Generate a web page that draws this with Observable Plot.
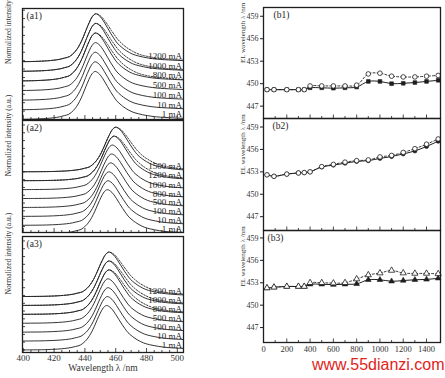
<!DOCTYPE html>
<html><head><meta charset="utf-8">
<script src="https://cdn.jsdelivr.net/npm/d3@7"></script>
<script src="https://cdn.jsdelivr.net/npm/@observablehq/plot@0.6"></script>
<style>
body{margin:0;background:#fff;}
#c{position:relative;width:445px;height:378px;overflow:hidden;font-family:"Liberation Serif",serif;}
#c svg{position:absolute;overflow:visible;}
.wm{position:absolute;left:312px;top:356px;color:#e2231a;font:16px "Liberation Sans",sans-serif;line-height:18px;}
</style></head><body><div id="c"></div>
<script>
// ---------- data: spectra (left column) ----------
// normalized line shape read from the 1 mA / 1200 mA curves, vs. shift from peak (nm)
const profileShift  = [-70,-50,-40,-32,-27,-23,-20,-17,-14,-12,-10,-8,-6,-4,-2,0,2,4,6,8,10,12,14,17,20,24,28,34,40,50,60,70];
const profileSolid  = [0,0.003,0.008,0.02,0.035,0.055,0.08,0.11,0.19,0.27,0.38,0.52,0.68,0.83,0.95,1,0.97,0.9,0.8,0.69,0.58,0.48,0.39,0.3,0.23,0.16,0.12,0.08,0.055,0.035,0.02,0.015];
const profileDashed = [0,0.003,0.008,0.02,0.035,0.055,0.08,0.11,0.19,0.27,0.38,0.52,0.68,0.83,0.95,1,0.98,0.93,0.85,0.76,0.66,0.57,0.48,0.38,0.3,0.22,0.16,0.11,0.08,0.05,0.03,0.02];

const currentsA1 = ["1 mA","10 mA","100 mA","500 mA","800 mA","1000 mA","1200 mA"];
const peaksA1    = [446.6,446.6,446.6,446.8,446.8,447.0,447.0];
const offsetsA1  = [0,0.2,0.4,0.6,0.8,1.0,1.2];
const dashedA1   = ["800 mA","1000 mA","1200 mA"];

const currentsA2 = ["1 mA","10 mA","100 mA","500 mA","800 mA","1000 mA","1200 mA","1500 mA"];
const peaksA2    = [454.5,454.9,455.5,456.6,457.3,457.7,458.8,459.9];
const offsetsA2  = [0,0.2,0.4,0.6,0.8,1.0,1.2,1.4];
const dashedA2   = ["1200 mA","1500 mA"];

const currentsA3 = ["1 mA","10 mA","100 mA","500 mA","800 mA","1000 mA","1200 mA"];
const peaksA3    = [454.0,454.5,454.9,454.9,455.5,455.5,455.5];
const offsetsA3  = [0,0.2,0.4,0.6,0.8,1.0,1.2];
const dashedA3   = ["800 mA","1000 mA","1200 mA"];

const wavelengthTicks = [400,420,440,460,480,500];

// ---------- data: EL peak wavelength (right column) ----------
const currentsB = [30,90,200,300,350,400,500,600,700,800,900,1000,1100,1200,1300,1400,1500];
const b1Open   = [449.2,449.2,449.2,449.2,449.2,449.7,449.7,449.7,449.7,449.8,451.3,451.4,451.0,450.9,450.9,451.0,451.1];
const b1Filled = [449.2,449.2,449.2,449.2,449.2,449.45,449.45,449.4,449.45,449.55,450.3,450.3,450.0,450.05,450.15,450.3,450.45];
const b2Open   = [452.6,452.4,452.7,452.85,452.9,453.0,453.7,454.0,454.3,454.5,454.6,455.0,455.2,455.6,456.1,456.7,457.4];
const b2Filled = [452.6,452.4,452.7,452.85,452.9,453.0,453.65,453.9,454.15,454.4,454.5,454.8,455.05,455.4,455.8,456.4,457.1];
const b3Open   = [452.3,452.4,452.5,452.5,452.5,453.0,453.0,452.95,453.0,453.5,454.05,454.3,454.65,454.3,454.25,454.25,454.2];
const b3Filled = [452.3,452.4,452.5,452.5,452.5,452.8,452.8,452.75,452.8,452.85,453.4,453.4,453.2,453.3,453.4,453.45,453.6];
const elTicksY = [447,450,453,456,459];
const currentTicks = [0,200,400,600,800,1000,1200,1400];

// ---------- drawing ----------
const container = document.getElementById("c");
const INK = "#1e1e1e";
const baseStyle = {fontFamily:"'Liberation Serif', serif", fontSize:"9px", color:INK, background:"none", overflow:"visible"};

function place(svg, left, top){ svg.style.left = left+"px"; svg.style.top = top+"px"; container.appendChild(svg); }

function spectraPanel(cfg){
  const {frame:[fx0,fy0,fx1,fy1], yDomain, names, peaks, offsets, dashed, tag, showX} = cfg;
  const xDomain = [399.5, 504];
  const ml = fx0, mr = 4, mt = Math.min(fy0, 6), mb = showX ? 26 : 2;
  const fw = fx1-fx0, fh = fy1-fy0;
  const pxPerUnit = fh/(yDomain[1]-yDomain[0]);
  const pxPerNm = fw/(xDomain[1]-xDomain[0]);
  const solid = [], dash = [], labels = [];
  const tailIdx = profileShift.indexOf(50);
  names.forEach((n,i)=>{
    profileShift.forEach((d,k)=>solid.push({curve:n, lambda:peaks[i]+d, v:offsets[i]+profileSolid[k]}));
    const isD = dashed.includes(n);
    if(isD) profileShift.forEach((d,k)=>dash.push({curve:n, lambda:peaks[i]+d, v:offsets[i]+profileDashed[k]}));
    labels.push({text:n, v: offsets[i] + (isD ? profileDashed[tailIdx] : profileSolid[tailIdx])});
  });
  const yTicks = d3.range(0, 2.6, 0.175);
  const xMinor = d3.range(400, 505, 5);
  const marks = [
    Plot.line(solid, {x:"lambda", y:"v", z:"curve", stroke:INK, strokeWidth:0.9, curve:"catmull-rom", clip:true}),
    Plot.line(dash, {x:"lambda", y:"v", z:"curve", stroke:INK, strokeWidth:0.9, strokeDasharray:"1.5,1.5", curve:"catmull-rom", clip:true}),
    Plot.text(labels, {x:()=>503, y:"v", text:"text", textAnchor:"end", lineAnchor:"bottom", dy:-0.5, fontSize:9, fill:INK}),
    Plot.ruleY(yTicks.filter(t=>t>yDomain[0]&&t<yDomain[1]), {y:d=>d, x1:()=>xDomain[0], x2:()=>xDomain[0]+3/pxPerNm, stroke:INK, strokeWidth:0.8}),
    Plot.ruleX(xMinor, {x:d=>d, y1:()=>yDomain[0], y2:d=>yDomain[0]+(d%20===0?4:2)/pxPerUnit, stroke:INK, strokeWidth:0.8}),
    Plot.frame({stroke:INK, strokeWidth:1.3}),
    Plot.text([tag], {frameAnchor:"top-left", dx:4, dy:4, text:d=>d, lineAnchor:"top", fontSize:9.5, fill:INK}),
    Plot.text(["Normalized intensity (a.u.)"], {frameAnchor:"left", text:d=>d, rotate:-90, dx:8-fx0, fontSize:7.6, fill:"#333"})
  ];
  if(showX){
    marks.push(Plot.axisX(wavelengthTicks, {tickSize:0, tickPadding:2, fontSize:9, fill:"#333", label:null}));
    marks.push(Plot.text(["Wavelength λ /nm"], {frameAnchor:"bottom", text:d=>d, dy:18, fontSize:9.5, fill:"#333"}));
  }
  const svg = Plot.plot({
    width: fw+ml+mr, height: fh+mt+mb, marginLeft:ml, marginRight:mr, marginTop:mt, marginBottom:mb,
    x:{domain:xDomain, axis:null}, y:{domain:yDomain, axis:null},
    style: baseStyle, marks
  });
  place(svg, fx0-ml, fy0-mt);
}

function elPanel(cfg){
  const {frame:[fx0,fy0,fx1,fy1], yDomain, open, filled, symOpen, symFilled, tag, showX} = cfg;
  const xDomain = [0, 1520];
  const ml = 30, mr = 4, mt = Math.min(fy0, 6), mb = showX ? 16 : 2;
  const fw = fx1-fx0, fh = fy1-fy0;
  const pxPerUnit = fh/(yDomain[1]-yDomain[0]);
  const dOpen = currentsB.map((c,i)=>({c, v:open[i]}));
  const dFilled = currentsB.map((c,i)=>({c, v:filled[i]}));
  const marks = [
    Plot.line(dFilled, {x:"c", y:"v", stroke:INK, strokeWidth:1, curve:"catmull-rom"}),
    Plot.dot(dFilled, {x:"c", y:"v", symbol:symFilled, r:2.1, fill:INK, stroke:INK, strokeWidth:0.6}),
    Plot.line(dOpen, {x:"c", y:"v", stroke:INK, strokeWidth:0.9, strokeDasharray:"2,2", curve:"catmull-rom"}),
    Plot.dot(dOpen, {x:"c", y:"v", symbol:symOpen, r:2.3, fill:"white", stroke:INK, strokeWidth:0.8}),
    Plot.ruleX(d3.range(100,1500,100), {x:d=>d, y1:()=>yDomain[0], y2:d=>yDomain[0]+(d%200===0?3.5:2)/pxPerUnit, stroke:INK, strokeWidth:0.8}),
    Plot.axisY(elTicksY, {tickSize:3, tickPadding:2, fontSize:8, fill:"#333", label:null}),
    Plot.frame({stroke:INK, strokeWidth:1.3}),
    Plot.text([tag], {frameAnchor:"top-left", dx:cfg.tagDx ?? 9, dy:4, text:d=>d, lineAnchor:"top", fontSize:9.5, fill:INK}),
    Plot.text(["EL wavelength λ /nm"], {frameAnchor:"left", text:d=>d, rotate:-90, dx:242-fx0, fontSize:7, fill:"#333"})
  ];
  if(showX) marks.push(Plot.axisX(currentTicks, {tickSize:0, tickPadding:3, fontSize:8.5, fill:"#333", label:null, tickFormat:d=>String(d)}));
  const svg = Plot.plot({
    width: fw+ml+mr, height: fh+mt+mb, marginLeft:ml, marginRight:mr, marginTop:mt, marginBottom:mb,
    x:{domain:xDomain, axis:null}, y:{domain:yDomain, axis:null},
    style: baseStyle, marks
  });
  place(svg, fx0-ml, fy0-mt);
}

spectraPanel({frame:[22,8,183,119], yDomain:[0,2.31], names:currentsA1, peaks:peaksA1, offsets:offsetsA1, dashed:dashedA1, tag:"(a1)"});
spectraPanel({frame:[22,120,183,232], yDomain:[0.04,2.55], names:currentsA2, peaks:peaksA2, offsets:offsetsA2, dashed:dashedA2, tag:"(a2)"});
spectraPanel({frame:[22,236,183,352], yDomain:[-0.056,2.55], names:currentsA3, peaks:peaksA3, offsets:offsetsA3, dashed:dashedA3, tag:"(a3)", showX:true});

elPanel({frame:[263,7,440,118], yDomain:[445.35,460.17], open:b1Open, filled:b1Filled, symOpen:"circle", symFilled:"square", tag:"(b1)", tagDx:10});
elPanel({frame:[263,118,440,230], yDomain:[445.15,460.14], open:b2Open, filled:b2Filled, symOpen:"circle", symFilled:"circle", tag:"(b2)", tagDx:9});
elPanel({frame:[263,230,440,342], yDomain:[445.0,460.0], open:b3Open, filled:b3Filled, symOpen:"triangle", symFilled:"triangle", tag:"(b3)", tagDx:4, showX:true});

const wm = document.createElement("div");
wm.className = "wm"; wm.textContent = "www.55dianzi.com";
container.appendChild(wm);
</script>
</body></html>
